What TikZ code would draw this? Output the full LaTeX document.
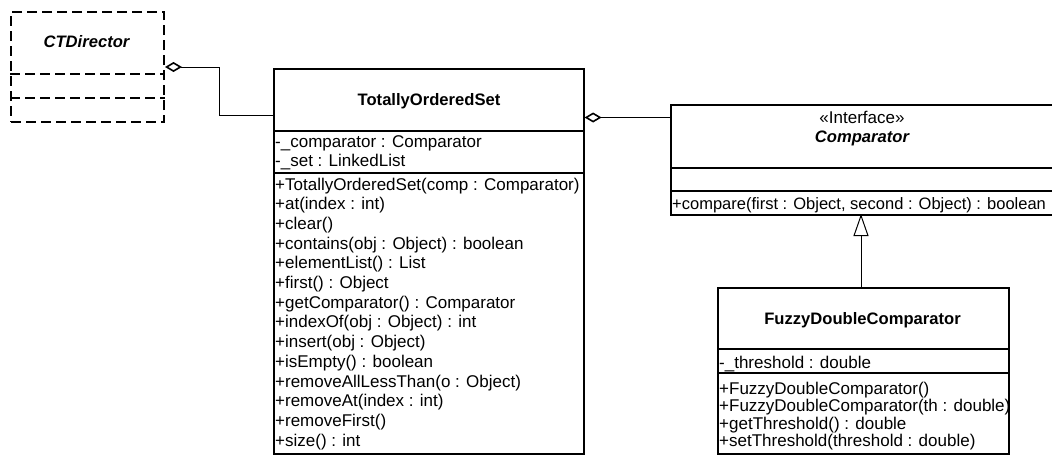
\documentclass[tikz,border=0pt]{standalone}
\usepackage{fontspec}
\setmainfont{Liberation Sans}
\usetikzlibrary{arrows.meta}
\tikzset{
  cls/.style={draw, line width=1.6pt, inner sep=0pt, anchor=north west},
  dcls/.style={cls, line width=2pt, dash pattern=on 10pt off 5pt},
  sep/.style={line width=1.4pt},
  dsep/.style={line width=2pt, dash pattern=on 10pt off 5pt},
  txt/.style={font=\fontsize{17}{18}\selectfont, anchor=base west, inner sep=0pt},
  ttl/.style={font=\fontsize{16.6}{18}\selectfont\bfseries, anchor=base, inner sep=0pt},
  conn/.style={line width=1pt},
  agg/.style={conn, {Diamond[open,length=17pt,width=10pt,line width=1.6pt]}-},
  gen/.style={conn, -{Triangle[open,length=22pt,width=15pt,line width=1pt]}},
}
\begin{document}
\begin{tikzpicture}[x=1pt,y=-1pt]
\clip (0,0) rectangle (1052,455);
\fill[white] (0,0) rectangle (1052,455);

% CTDirector
\node[dcls, minimum width=153pt, minimum height=110pt] (ctd) at (10,11) {};
\node[ttl, font=\fontsize{16.6}{18}\selectfont\bfseries\itshape] (ctdname) at (86.5,47) {CTDirector};
\draw[dsep] (ctd.west |- 0,74) -- (ctd.east |- 0,74);
\draw[dsep] (ctd.west |- 0,98) -- (ctd.east |- 0,98);

% TotallyOrderedSet
\node[cls, minimum width=310pt, minimum height=385pt] (tos) at (273,68) {};
\node[ttl] (tosname) at (429,105) {TotallyOrderedSet};
\draw[sep] (tos.west |- 0,131) -- (tos.east |- 0,131);
\draw[sep] (tos.west |- 0,173) -- (tos.east |- 0,173);
\node[txt] (tosa1) at (275,147) {-\_comparator : Comparator};
\node[txt] (tosa2) at (275,166.5) {-\_set : LinkedList};
\foreach \m [count=\i from 0] in {
  {+TotallyOrderedSet(comp : Comparator)},
  {+at(index : int)},
  {+clear()},
  {+contains(obj : Object) : boolean},
  {+elementList() : List},
  {+first() : Object},
  {+getComparator() : Comparator},
  {+indexOf(obj : Object) : int},
  {+insert(obj : Object)},
  {+isEmpty() : boolean},
  {+removeAllLessThan(o : Object)},
  {+removeAt(index : int)},
  {+removeFirst()},
  {+size() : int}}
  \node[txt] (tosm\i) at (275,{190+19.7*\i}) {\m};

% Comparator
\node[cls, minimum width=384pt, minimum height=110pt] (comp) at (670,104) {};
\node[ttl, font=\fontsize{17}{18}\selectfont] (compst) at (862,123) {«Interface»};
\node[ttl, font=\fontsize{16.6}{18}\selectfont\bfseries\itshape] (compname) at (862,142) {Comparator};
\draw[sep] (comp.west |- 0,168) -- (comp.east |- 0,168);
\draw[sep] (comp.west |- 0,191) -- (comp.east |- 0,191);
\node[txt, font=\fontsize{16.5}{18}\selectfont] (compm1) at (672,209) {+compare(first : Object, second : Object) : boolean};

% FuzzyDoubleComparator
\node[cls, minimum width=291pt, minimum height=166pt] (fdc) at (717,287) {};
\node[ttl] (fdcname) at (862.5,324) {FuzzyDoubleComparator};
\draw[sep] (fdc.west |- 0,349) -- (fdc.east |- 0,349);
\draw[sep] (fdc.west |- 0,373) -- (fdc.east |- 0,373);
\node[txt] (fdca1) at (719,368) {-\_threshold : double};
\node[txt] (fdcm1) at (719,394) {+FuzzyDoubleComparator()};
\node[txt] (fdcm2) at (719,411.5) {+FuzzyDoubleComparator(th : double)};
\node[txt] (fdcm3) at (719,429) {+getThreshold() : double};
\node[txt] (fdcm4) at (719,446.5) {+setThreshold(threshold : double)};

% connectors
\coordinate (b1) at (219,115);
\draw[agg] (ctd.east) -| (b1) -- (b1 -| tos.west);
\coordinate (b2) at (620,117.5);
\draw[agg] (b2 -| tos.east) -- (b2 -| comp.west);
\coordinate (b3) at (861,214);
\draw[gen] (fdc.north -| b3) -- (b3);
\end{tikzpicture}
\end{document}
